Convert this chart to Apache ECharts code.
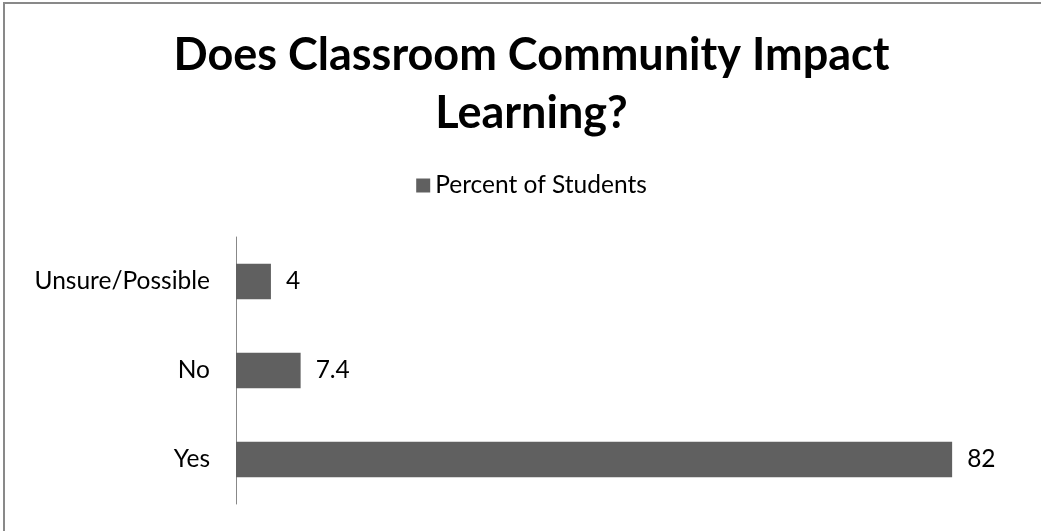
<!DOCTYPE html>
<html>
<head>
<meta charset="utf-8">
<script src="https://cdn.jsdelivr.net/npm/echarts@6/dist/echarts.min.js"></script>
<style>
  html, body { margin: 0; padding: 0; background: #fff; overflow: hidden; width: 1041px; height: 531px; }
  #frame {
    position: absolute; left: 3px; top: 2px; width: 1038px; height: 529px;
    border-left: 2px solid #898989; border-top: 2px solid #898989;
    box-sizing: border-box;
  }
  /* the chart area runs past the right edge of the page, so its centre sits at x = 531 */
  #chart { position: absolute; left: 0; top: 0; width: 1063px; height: 531px; }
</style>
</head>
<body>
<div id="frame"></div>
<div id="chart"></div>
<script>
// Survey answers, listed bottom to top as drawn on the category axis
const categories = ['Yes', 'No', 'Unsure/Possible'];
const percentOfStudents = [82, 7.4, 4];
const seriesName = 'Percent of Students';
const titleLines = ['Does Classroom Community Impact', 'Learning?'];

const FONT = 'Lato, "Open Sans", sans-serif';
const BAR = '#606060';

const chart = echarts.init(document.getElementById('chart'));
chart.setOption({
  animation: false,
  title: {
    text: titleLines.join('\n'),
    left: 'center',
    top: 21,
    textStyle: {
      fontFamily: FONT, fontWeight: 'bold', fontSize: 45,
      lineHeight: 58, color: '#000'
    }
  },
  legend: {
    data: [seriesName],
    left: 'center',
    top: 168,
    icon: 'rect',
    itemWidth: 14, itemHeight: 14, itemGap: 8,
    textStyle: { fontFamily: FONT, fontSize: 24.5, color: '#000' }
  },
  grid: { left: 236, right: 41, top: 237, bottom: 27, containLabel: false },
  xAxis: {
    type: 'value', min: 0, max: 90, interval: 10,
    show: false
  },
  yAxis: {
    type: 'category',
    data: categories,
    axisLine: { show: true, lineStyle: { color: '#888', width: 1 } },
    axisTick: { show: false },
    axisLabel: { fontFamily: FONT, fontSize: 24.5, color: '#000', margin: 26 }
  },
  series: [{
    name: seriesName,
    type: 'bar',
    data: percentOfStudents,
    barCategoryGap: '60%',
    itemStyle: { color: BAR },
    label: {
      show: true, position: 'right', distance: 15,
      fontFamily: FONT, fontSize: 24.5, color: '#000'
    }
  }]
});
</script>
</body>
</html>
